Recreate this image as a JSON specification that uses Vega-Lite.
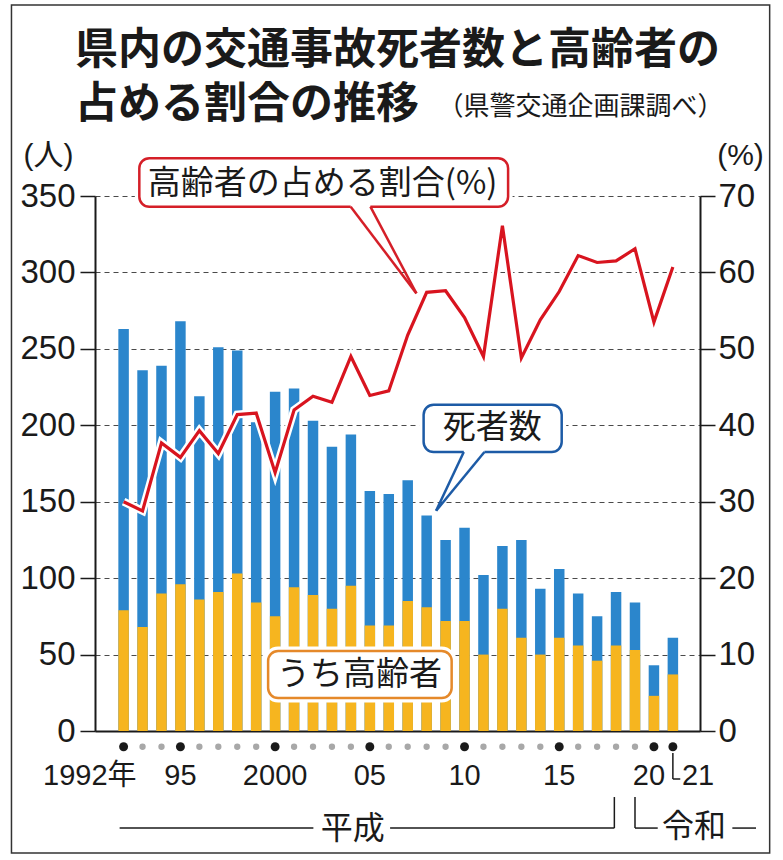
{
  "$schema": "https://vega.github.io/schema/vega-lite/v6.json",
  "width": 605,
  "height": 535,
  "autosize": {"type": "none"},
  "padding": {"left": 95, "top": 196, "right": 83, "bottom": 129},
  "background": "white",
  "config": {"view": {"stroke": null}, "font": "Noto Sans CJK JP"},
  "title": {
    "text": ["県内の交通事故死者数と高齢者の", "占める割合の推移"],
    "anchor": "start",
    "frame": "group",
    "dx": -20,
    "dy": 133,
    "offset": 10,
    "fontSize": 43,
    "fontWeight": "bold",
    "font": "Noto Sans CJK JP",
    "lineHeight": 54,
    "color": "#1a1a1a"
  },
  "data": {
    "values": [
      {"year": 1992, "total": 263, "elderly": 79, "pct": 30.0, "label": "1992年"},
      {"year": 1993, "total": 236, "elderly": 68, "pct": 28.8, "label": null},
      {"year": 1994, "total": 239, "elderly": 90, "pct": 37.7, "label": null},
      {"year": 1995, "total": 268, "elderly": 96, "pct": 35.8, "label": "95"},
      {"year": 1996, "total": 219, "elderly": 86, "pct": 39.3, "label": null},
      {"year": 1997, "total": 251, "elderly": 91, "pct": 36.3, "label": null},
      {"year": 1998, "total": 249, "elderly": 103, "pct": 41.4, "label": null},
      {"year": 1999, "total": 202, "elderly": 84, "pct": 41.6, "label": null},
      {"year": 2000, "total": 222, "elderly": 75, "pct": 33.8, "label": "2000"},
      {"year": 2001, "total": 224, "elderly": 94, "pct": 42.0, "label": null},
      {"year": 2002, "total": 203, "elderly": 89, "pct": 43.8, "label": null},
      {"year": 2003, "total": 186, "elderly": 80, "pct": 43.0, "label": null},
      {"year": 2004, "total": 194, "elderly": 95, "pct": 49.0, "label": null},
      {"year": 2005, "total": 157, "elderly": 69, "pct": 43.9, "label": "05"},
      {"year": 2006, "total": 155, "elderly": 69, "pct": 44.5, "label": null},
      {"year": 2007, "total": 164, "elderly": 85, "pct": 51.8, "label": null},
      {"year": 2008, "total": 141, "elderly": 81, "pct": 57.4, "label": null},
      {"year": 2009, "total": 125, "elderly": 72, "pct": 57.6, "label": null},
      {"year": 2010, "total": 133, "elderly": 72, "pct": 54.1, "label": "10"},
      {"year": 2011, "total": 102, "elderly": 50, "pct": 49.0, "label": null},
      {"year": 2012, "total": 121, "elderly": 80, "pct": 66.1, "label": null},
      {"year": 2013, "total": 125, "elderly": 61, "pct": 48.8, "label": null},
      {"year": 2014, "total": 93, "elderly": 50, "pct": 53.8, "label": null},
      {"year": 2015, "total": 106, "elderly": 61, "pct": 57.5, "label": "15"},
      {"year": 2016, "total": 90, "elderly": 56, "pct": 62.2, "label": null},
      {"year": 2017, "total": 75, "elderly": 46, "pct": 61.3, "label": null},
      {"year": 2018, "total": 91, "elderly": 56, "pct": 61.5, "label": null},
      {"year": 2019, "total": 84, "elderly": 53, "pct": 63.1, "label": null},
      {"year": 2020, "total": 43, "elderly": 23, "pct": 53.5, "label": "20"},
      {"year": 2021, "total": 61, "elderly": 37, "pct": 60.7, "label": "21"}
    ]
  },
  "layer": [
    {
      "layer": [
        {
          "mark": {"type": "bar", "orient": "vertical", "size": 10.5, "color": "#2b86cc"},
          "encoding": {
            "x": {
              "field": "year", "type": "quantitative",
              "scale": {"domain": [1990.754, 2022.168], "nice": false, "zero": false},
              "axis": {"domain": true, "domainColor": "#1a1a1a", "domainWidth": 2, "ticks": false, "labels": false, "grid": false, "title": null}
            },
            "y": {
              "field": "total", "type": "quantitative", "stack": null,
              "scale": {"domain": [0, 350], "nice": false},
              "axis": {
                "values": [0, 50, 100, 150, 200, 250, 300, 350],
                "title": "(人)", "titleAngle": 0, "titleX": -47, "titleY": -41,
                "titleAlign": "center", "titleBaseline": "middle",
                "titleFont": "Liberation Sans, Noto Sans CJK JP", "titleFontSize": 30,
                "titleFontWeight": "normal", "titleColor": "#1a1a1a",
                "labelFont": "Liberation Sans", "labelFontSize": 33, "labelColor": "#1a1a1a", "labelPadding": 5,
                "labelFlush": false, "labelOverlap": false, "labelBound": false,
                "tickSize": 15, "tickColor": "#1a1a1a", "tickWidth": 1.5,
                "domainColor": "#1a1a1a", "domainWidth": 2,
                "grid": true, "gridColor": "#4a4a4a", "gridDash": [5, 4], "gridWidth": 1.2
              }
            }
          }
        },
        {
          "mark": {"type": "bar", "orient": "vertical", "size": 10.5, "color": "#f6b51f"},
          "encoding": {
            "x": {"field": "year", "type": "quantitative"},
            "y": {"field": "elderly", "type": "quantitative", "stack": null}
          }
        },
        {
          "transform": [{"filter": "!datum.label"}],
          "mark": {"type": "point", "filled": true, "size": 40, "color": "#a8a8a8", "opacity": 1},
          "encoding": {
            "x": {"field": "year", "type": "quantitative"},
            "y": {"datum": -10.3, "type": "quantitative"}
          }
        },
        {
          "transform": [{"filter": "datum.label"}],
          "mark": {"type": "point", "filled": true, "size": 80, "color": "#1a1a1a", "opacity": 1},
          "encoding": {
            "x": {"field": "year", "type": "quantitative"},
            "y": {"datum": -10.3, "type": "quantitative"}
          }
        },
        {
          "transform": [{"filter": "datum.label && datum.year > 1992 && datum.year < 2020"}],
          "mark": {"type": "text", "font": "Liberation Sans, Noto Sans CJK JP", "fontSize": 29, "baseline": "middle", "align": "center", "color": "#1a1a1a"},
          "encoding": {
            "x": {"field": "year", "type": "quantitative"},
            "y": {"datum": -29.4, "type": "quantitative"},
            "text": {"field": "label"}
          }
        },
        {
          "transform": [{"filter": "datum.year == 1992"}],
          "mark": {"type": "text", "font": "Liberation Sans, Noto Sans CJK JP", "fontSize": 29, "baseline": "middle", "align": "right", "dx": 13, "color": "#1a1a1a"},
          "encoding": {
            "x": {"field": "year", "type": "quantitative"},
            "y": {"datum": -29.4, "type": "quantitative"},
            "text": {"field": "label"}
          }
        },
        {
          "transform": [{"filter": "datum.year == 2020"}],
          "mark": {"type": "text", "font": "Liberation Sans, Noto Sans CJK JP", "fontSize": 29, "baseline": "middle", "align": "center", "dx": -5, "color": "#1a1a1a"},
          "encoding": {
            "x": {"field": "year", "type": "quantitative"},
            "y": {"datum": -29.4, "type": "quantitative"},
            "text": {"field": "label"}
          }
        },
        {
          "transform": [{"filter": "datum.year == 2021"}],
          "mark": {"type": "text", "font": "Liberation Sans, Noto Sans CJK JP", "fontSize": 29, "baseline": "middle", "align": "left", "dx": 9, "color": "#1a1a1a"},
          "encoding": {
            "x": {"field": "year", "type": "quantitative"},
            "y": {"datum": -29.4, "type": "quantitative"},
            "text": {"field": "label"}
          }
        },
        {
          "data": {
            "values": [
              {"yearStart": 2021, "yearEnd": 2021, "valStart": -14.4, "valEnd": -31.4},
              {"yearStart": 2021, "yearEnd": 2021.39, "valStart": -31.4, "valEnd": -31.4},
              {"yearStart": 1991.79, "yearEnd": 2002.02, "valStart": -63.5, "valEnd": -63.5},
              {"yearStart": 2006.07, "yearEnd": 2017.91, "valStart": -63.5, "valEnd": -63.5},
              {"yearStart": 2017.91, "yearEnd": 2017.91, "valStart": -63.5, "valEnd": -43.2},
              {"yearStart": 2019.0, "yearEnd": 2019.0, "valStart": -43.2, "valEnd": -63.5},
              {"yearStart": 2019.0, "yearEnd": 2020.2, "valStart": -63.5, "valEnd": -63.5},
              {"yearStart": 2024.14, "yearEnd": 2025.39, "valStart": -63.5, "valEnd": -63.5}
            ]
          },
          "mark": {"type": "rule", "color": "#1a1a1a", "strokeWidth": 1.5},
          "encoding": {
            "x": {"field": "yearStart", "type": "quantitative"},
            "x2": {"field": "yearEnd"},
            "y": {"field": "valStart", "type": "quantitative"},
            "y2": {"field": "valEnd"}
          }
        },
        {
          "data": {
            "values": [
              {"era": "平成", "year": 2004.1, "val": -63.8},
              {"era": "令和", "year": 2022.12, "val": -63.0}
            ]
          },
          "mark": {"type": "text", "font": "Noto Sans CJK JP", "fontSize": 32, "baseline": "middle", "align": "center", "color": "#1a1a1a"},
          "encoding": {
            "x": {"field": "year", "type": "quantitative"},
            "y": {"field": "val", "type": "quantitative"},
            "text": {"field": "era"}
          }
        },
        {
          "data": {"name": "callouts", "values": [
            {"series": "pct", "label": "高齢者の占める割合(%)", "yearStart": 1992.83, "yearEnd": 2012.3, "valTop": 374.7, "valBottom": 343.0, "yearText": 2002.51, "valText": 357.9},
            {"series": "total", "label": "死者数", "yearStart": 2007.84, "yearEnd": 2015.13, "valTop": 213.4, "valBottom": 182.5, "yearText": 2011.47, "valText": 198.2},
            {"series": "elderly", "label": "うち高齢者", "yearStart": 1999.63, "yearEnd": 2009.32, "valTop": 52.3, "valBottom": 21.6, "yearText": 2004.46, "valText": 36.6}
          ]},
          "layer": [
            {
              "mark": {"type": "rect", "fill": "white", "stroke": "white", "strokeWidth": 9, "cornerRadius": 10},
              "encoding": {
                "x": {"field": "yearStart", "type": "quantitative"},
                "x2": {"field": "yearEnd"},
                "y": {"field": "valTop", "type": "quantitative"},
                "y2": {"field": "valBottom"}
              }
            },
            {
              "mark": {"type": "rect", "fill": "white", "strokeWidth": 2.5, "cornerRadius": 10},
              "encoding": {
                "x": {"field": "yearStart", "type": "quantitative"},
                "x2": {"field": "yearEnd"},
                "y": {"field": "valTop", "type": "quantitative"},
                "y2": {"field": "valBottom"},
                "stroke": {"field": "series", "type": "nominal", "legend": null,
                  "scale": {"domain": ["pct", "total", "elderly"], "range": ["#d51f28", "#1d5ba6", "#e5892a"]}}
              }
            },
            {
              "mark": {"type": "text", "font": "Noto Sans CJK JP", "fontSize": 33, "baseline": "middle", "align": "center", "color": "#1a1a1a"},
              "encoding": {
                "x": {"field": "yearText", "type": "quantitative"},
                "y": {"field": "valText", "type": "quantitative"},
                "text": {"field": "label"}
              }
            }
          ]
        },
        {
          "data": {"values": [
            {"series": "pct", "baseStart": 2003.99, "baseEnd": 2005.03, "valBase": 343.0, "yearTip": 2007.46, "valTip": 286.3},
            {"series": "total", "baseStart": 2009.96, "baseEnd": 2011.05, "valBase": 182.5, "yearTip": 2008.5, "valTip": 144.1}
          ]},
          "layer": [
            {
              "mark": {"type": "rule", "color": "white", "strokeWidth": 4},
              "encoding": {
                "x": {"field": "baseStart", "type": "quantitative"},
                "x2": {"field": "baseEnd"},
                "y": {"field": "valBase", "type": "quantitative"},
                "y2": {"field": "valBase"}
              }
            },
            {
              "mark": {"type": "rule", "strokeWidth": 2.5},
              "encoding": {
                "x": {"field": "baseStart", "type": "quantitative"},
                "x2": {"field": "yearTip"},
                "y": {"field": "valBase", "type": "quantitative"},
                "y2": {"field": "valTip"},
                "stroke": {"field": "series", "type": "nominal", "legend": null}
              }
            },
            {
              "mark": {"type": "rule", "strokeWidth": 2.5},
              "encoding": {
                "x": {"field": "baseEnd", "type": "quantitative"},
                "x2": {"field": "yearTip"},
                "y": {"field": "valBase", "type": "quantitative"},
                "y2": {"field": "valTip"},
                "stroke": {"field": "series", "type": "nominal", "legend": null}
              }
            }
          ]
        },
        {
          "data": {"values": [{"note": "（県警交通企画課調べ）"}]},
          "mark": {"type": "text", "font": "Noto Sans CJK JP", "fontSize": 26, "baseline": "middle", "align": "center", "color": "#1a1a1a"},
          "encoding": {
            "x": {"datum": 2016.12, "type": "quantitative"},
            "y": {"datum": 407.9, "type": "quantitative"},
            "text": {"field": "note"}
          }
        },
        {
          "data": {"values": [{"yearStart": 1986.08, "yearEnd": 2026.11, "valTop": 474.9, "valBottom": -79.8}]},
          "mark": {"type": "rect", "filled": false, "stroke": "#333333", "strokeWidth": 1.5},
          "encoding": {
            "x": {"field": "yearStart", "type": "quantitative"},
            "x2": {"field": "yearEnd"},
            "y": {"field": "valTop", "type": "quantitative"},
            "y2": {"field": "valBottom"}
          }
        }
      ]
    },
    {
      "layer": [
        {
          "mark": {"type": "line", "color": "white", "strokeWidth": 8, "strokeJoin": "miter"},
          "encoding": {
            "x": {"field": "year", "type": "quantitative"},
            "y": {"field": "pct", "type": "quantitative", "scale": {"domain": [0, 70], "nice": false}}
          }
        },
        {
          "mark": {"type": "line", "color": "#d8141f", "strokeWidth": 3.2, "strokeJoin": "miter"},
          "encoding": {
            "x": {"field": "year", "type": "quantitative"},
            "y": {
              "field": "pct", "type": "quantitative",
              "scale": {"domain": [0, 70], "nice": false},
              "axis": {
                "orient": "right",
                "values": [0, 10, 20, 30, 40, 50, 60, 70],
                "title": "(%)", "titleAngle": 0, "titleX": 40, "titleY": -41,
                "titleAlign": "center", "titleBaseline": "middle",
                "titleFont": "Liberation Sans, Noto Sans CJK JP", "titleFontSize": 30,
                "titleFontWeight": "normal", "titleColor": "#1a1a1a",
                "labelFont": "Liberation Sans", "labelFontSize": 33, "labelColor": "#1a1a1a", "labelPadding": 3,
                "labelFlush": false, "labelOverlap": false, "labelBound": false,
                "tickSize": 15, "tickColor": "#1a1a1a", "tickWidth": 1.5,
                "domainColor": "#1a1a1a", "domainWidth": 2, "grid": false
              }
            }
          }
        }
      ]
    }
  ],
  "resolve": {"scale": {"y": "independent"}}
}
